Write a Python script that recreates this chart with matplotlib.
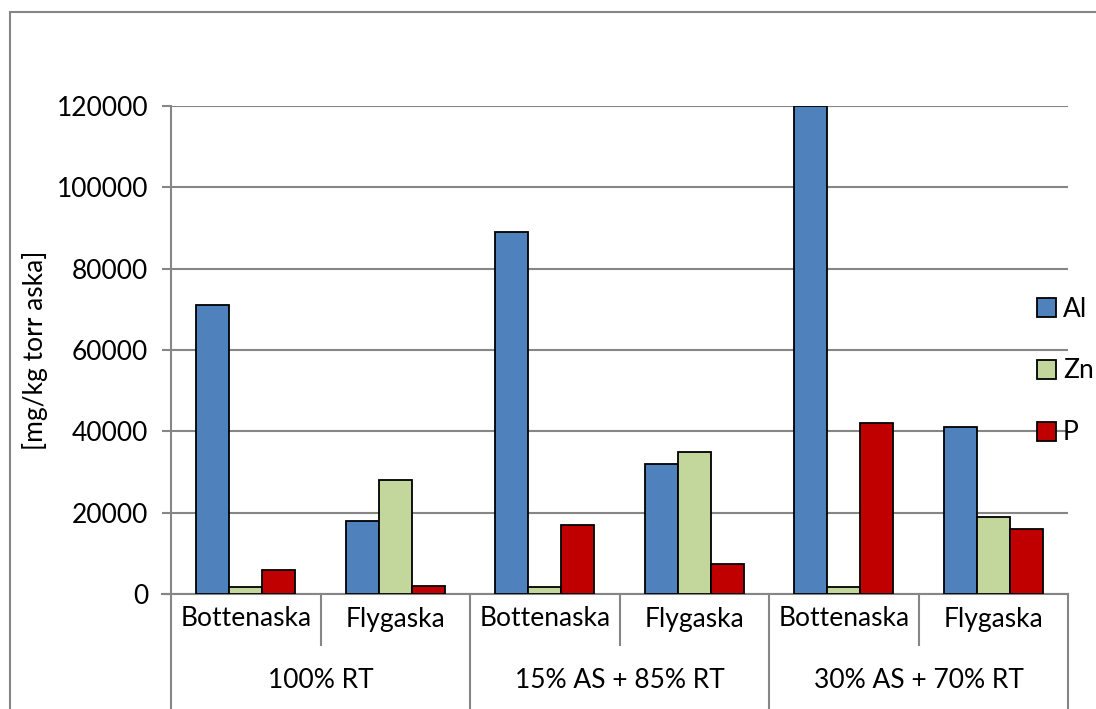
import matplotlib.pyplot as plt
from matplotlib.patches import Rectangle
import numpy as np

plt.rcParams['font.family'] = ['Lato', 'DejaVu Sans']

# data
samples = ["Bottenaska", "Flygaska", "Bottenaska", "Flygaska", "Bottenaska", "Flygaska"]
mixes = ["100% RT", "15% AS + 85% RT", "30% AS + 70% RT"]
series = ["Al", "Zn", "P"]
al = [71000, 18000, 89000, 32000, 120000, 41000]
zn = [1800, 28000, 1800, 35000, 1800, 19000]
p = [6000, 2000, 17000, 7500, 42000, 16000]
colors = ["#4F81BD", "#C3D69B", "#C00000"]

grey = "#868686"
fs = 19

fig = plt.figure(figsize=(10.96, 7.09), dpi=100)
ax = fig.add_axes([171 / 1096, 115 / 709, (1068 - 171) / 1096, 488 / 709])

# outer chart border (runs off the right/bottom edge like in the reference)
fig.patches.append(Rectangle((10 / 1096, -0.1), 1.2, 1 - 12 / 709 + 0.1,
                             transform=fig.transFigure, fill=False,
                             edgecolor=grey, linewidth=1.5))

x = np.arange(len(samples))
w = 0.221
for i, (vals, name) in enumerate(zip([al, zn, p], series)):
    ax.bar(x + (i - 1) * w, vals, w, color=colors[i], edgecolor="black",
           linewidth=1.3, label=name, zorder=3)

ax.set_xlim(-0.5, len(samples) - 0.5)
ax.set_ylim(0, 120000)
ax.set_yticks(range(0, 120001, 20000))
ax.tick_params(axis="y", length=6.5, width=1.5, color=grey, labelsize=fs, pad=10)
ax.yaxis.grid(True, color=grey, linewidth=1.5, zorder=0)
ax.set_xticks([])
for side in ["top", "right"]:
    ax.spines[side].set_visible(False)
ax.spines["left"].set_color(grey)
ax.spines["left"].set_linewidth(1.5)
ax.spines["bottom"].set_color(grey)
ax.spines["bottom"].set_linewidth(1.5)
ax.set_ylabel("[mg/kg torr aska]", fontsize=fs, labelpad=6)

# two-level category axis
trans = ax.get_xaxis_transform()
ax.plot([-0.5 - 9 / 149.5, -0.5], [0, 0], color=grey, lw=1.5, transform=trans, clip_on=False)
for b in np.arange(-0.5, len(samples), 1.0):
    low = -0.3 if (b + 0.5) % 2 == 0 else -51 / 488
    ax.plot([b, b], [0, low], color=grey, lw=1.5, transform=trans, clip_on=False)
for xi, s in zip(x, samples):
    ax.text(xi, -25 / 488, s, ha="center", va="center", fontsize=fs, transform=trans)
for j, m in enumerate(mixes):
    ax.text(2 * j + 0.5, -86 / 488, m, ha="center", va="center", fontsize=fs, transform=trans)

fig.legend(loc="center left", bbox_to_anchor=(1026 / 1096, 1 - 371 / 709), frameon=False,
           fontsize=fs, handlelength=0.75, handleheight=0.75, handletextpad=0.25,
           labelspacing=1.4, borderaxespad=0)

fig.savefig("out.png", dpi=100)
